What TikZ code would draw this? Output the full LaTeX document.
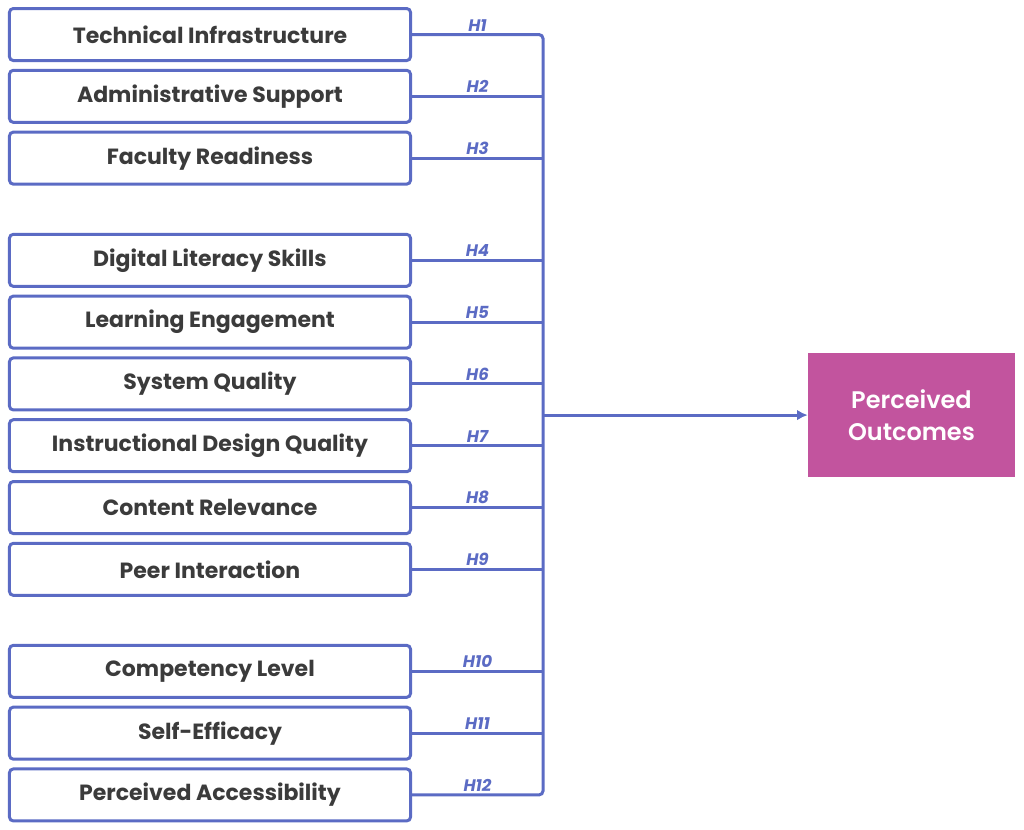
\documentclass[tikz,border=0pt]{standalone}
\usepackage{fontspec}
\usepackage{xcolor}
\usetikzlibrary{arrows.meta,positioning}
\setmainfont{Poppins}
\newfontfamily\semifont{Poppins SemiBold}
\definecolor{ink}{HTML}{3B3B3B}
\definecolor{linkblue}{HTML}{5B6BC4}
\definecolor{outpink}{HTML}{C2549E}
\tikzset{
  factorbox/.style={
    rounded corners=0.1cm,
    draw=linkblue,
    line width=2.25pt,
    inner sep=0pt,
    minimum width=300.75pt,
    minimum height=39pt,
    align=center,
    font=\fontsize{16.5}{19}\selectfont\bfseries,
    text=ink
  },
  outcomebox/.style={
    fill=outpink,
    inner sep=0pt,
    minimum width=155.25pt,
    minimum height=93pt,
    align=center,
    font=\fontsize{18}{24}\selectfont\semifont,
    text=white
  },
  hlink/.style={line width=2.25pt, draw=linkblue},
  hlabel/.style={above, inner sep=1.5pt, text=linkblue, font=\fontsize{12.5}{14}\selectfont\bfseries\itshape},
  outarrow/.style={-{Latex[length=8pt,width=8pt]}, line width=2.25pt, draw=linkblue}
}

\begin{document}
\begin{tikzpicture}
      \useasboundingbox (-157.5pt,25.9pt) rectangle (610.5pt,-595.9pt);
      \node[factorbox] (b1) {Technical Infrastructure};
      \node[factorbox,below=5.1pt of b1] (b2) {Administrative Support};
      \node[factorbox,below=5.1pt of b2] (b3) {Faculty Readiness};
      \node[factorbox,below=35.4pt of b3] (b4) {Digital Literacy Skills};
      \node[factorbox,below=5.1pt of b4] (b5) {Learning Engagement};
      \node[factorbox,below=5.1pt of b5] (b6) {System Quality};
      \node[factorbox,below=5.1pt of b6] (b7) {Instructional Design Quality};
      \node[factorbox,below=5.1pt of b7] (b8) {Content Relevance};
      \node[factorbox,below=5.1pt of b8] (b9) {Peer Interaction};
      \node[factorbox,below=35.25pt of b9] (b10) {Competency Level};
      \node[factorbox,below=5.1pt of b10] (b11) {Self-Efficacy};
      \node[factorbox,below=5.1pt of b11] (b12) {Perceived Accessibility};
      \node[outcomebox] (out) at (526.1pt,-285.4pt) {Perceived\\Outcomes};
      \coordinate (busx) at (249.75pt,0);
      \coordinate (hub) at (out.west -| busx);
      \draw[hlink,rounded corners=3pt] (b1.east) -| (hub) node[hlabel,pos=0.25] {H1}
        |- (b12.east) node[hlabel,pos=0.75] {H12};
      \foreach \i in {2,...,11}
        \draw[hlink] (b\i.east) -- (b\i.east -| busx) node[hlabel,midway] {H\i};
      \draw[outarrow] (hub) -- (out);
    \end{tikzpicture}
\end{document}
